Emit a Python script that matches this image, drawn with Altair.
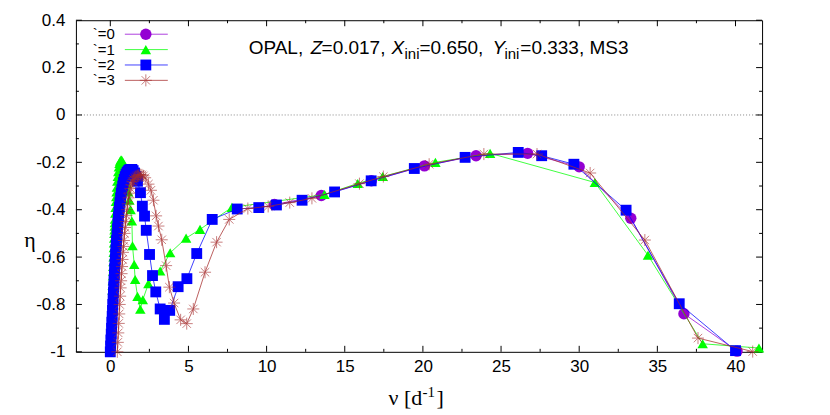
import altair as alt
import pandas as pd

# ---------------- data ----------------
nu0 = [10.5, 13.5, 16.7, 20.1, 23.4, 26.7, 30.0, 33.3, 36.7, 40.1]
eta0 = [-0.378, -0.340, -0.278, -0.215, -0.172, -0.162, -0.219, -0.436, -0.839, -0.997]

nu1 = [0.14, 0.15, 0.16, 0.17, 0.18, 0.19, 0.20, 0.21, 0.22, 0.23, 0.24, 0.25, 0.26, 0.27, 0.28, 0.29,
       0.30, 0.32, 0.34, 0.36, 0.38, 0.40, 0.42, 0.45, 0.48, 0.51, 0.55, 0.59, 0.63, 0.68, 0.73, 0.79,
       0.85, 0.92, 0.99, 1.06, 1.14, 1.22, 1.30,
       1.38, 1.42, 1.53, 1.59, 1.74, 1.92, 2.08, 2.44, 3.19, 3.83, 4.85, 5.74, 7.78,
       13.7, 15.83, 17.43, 20.8, 24.3, 31.0, 34.4, 37.9, 41.5]
eta1 = [-0.74, -0.72, -0.70, -0.68, -0.66, -0.64, -0.62, -0.60, -0.58, -0.56, -0.54, -0.52, -0.50, -0.485, -0.47, -0.455,
        -0.44, -0.415, -0.39, -0.365, -0.345, -0.325, -0.305, -0.28, -0.26, -0.24, -0.22, -0.205, -0.195, -0.19, -0.19, -0.20,
        -0.215, -0.235, -0.26, -0.29, -0.325, -0.36, -0.40,
        -0.448, -0.552, -0.631, -0.695, -0.766, -0.82, -0.78, -0.712, -0.659, -0.582, -0.52, -0.483, -0.39,
        -0.336, -0.289, -0.26, -0.20, -0.162, -0.285, -0.592, -0.966, -0.984]

nu2 = [0.00, 0.02, 0.04, 0.06, 0.08, 0.10, 0.12, 0.14, 0.16, 0.18, 0.20, 0.22, 0.24, 0.26, 0.28, 0.30,
       0.32, 0.34, 0.36, 0.38, 0.40, 0.43, 0.46, 0.49, 0.52, 0.55, 0.58, 0.62, 0.66, 0.70, 0.74, 0.79,
       0.84, 0.89, 0.95, 1.01, 1.08, 1.15, 1.22, 1.30, 1.38, 1.46, 1.55, 1.64, 1.74,
       1.93, 2.05, 2.19, 2.30, 2.51, 2.70, 2.91, 3.19, 3.46, 3.80, 4.34, 4.90, 5.53, 6.52,
       8.12, 9.50, 10.63, 12.27, 14.35, 16.69, 19.45, 22.7, 26.1, 27.6, 29.66, 33.0, 36.4, 40.0]
eta2 = [-1.0, -0.975, -0.95, -0.925, -0.90, -0.875, -0.85, -0.825, -0.80, -0.775, -0.75, -0.725, -0.70, -0.675, -0.65, -0.63,
        -0.61, -0.59, -0.57, -0.55, -0.53, -0.505, -0.48, -0.455, -0.43, -0.41, -0.39, -0.37, -0.35, -0.33, -0.315, -0.30,
        -0.285, -0.272, -0.26, -0.25, -0.242, -0.236, -0.232, -0.23, -0.23, -0.235, -0.245, -0.26, -0.28,
        -0.328, -0.385, -0.427, -0.487, -0.589, -0.678, -0.747, -0.819, -0.863, -0.825, -0.725, -0.691, -0.585, -0.441,
        -0.397, -0.391, -0.380, -0.360, -0.325, -0.278, -0.226, -0.179, -0.158, -0.172, -0.208, -0.402, -0.797, -0.995]

nu3 = [0.45, 0.48, 0.51, 0.54, 0.57, 0.60, 0.63, 0.66, 0.69, 0.72, 0.75, 0.78, 0.81, 0.84, 0.87,
       0.91, 0.95, 0.99, 1.03, 1.07, 1.12, 1.17, 1.22, 1.28, 1.34, 1.41, 1.48, 1.56, 1.64,
       1.73, 1.82, 1.92, 2.02, 2.12, 2.23,
       2.44, 2.60, 2.76, 2.93, 3.08, 3.29, 3.57, 3.78, 4.08, 4.50, 4.89, 5.31, 6.06, 6.80, 7.61,
       8.80, 10.1, 11.48, 12.9, 15.94, 17.47, 20.4, 23.9, 27.3, 30.7, 34.2, 37.6, 41.1]
eta3 = [-1.0, -0.96, -0.92, -0.88, -0.84, -0.80, -0.765, -0.73, -0.70, -0.67, -0.64, -0.61, -0.58, -0.555, -0.53,
        -0.50, -0.475, -0.45, -0.425, -0.40, -0.375, -0.35, -0.33, -0.31, -0.295, -0.282, -0.272, -0.265, -0.26,
        -0.256, -0.253, -0.252, -0.253, -0.257, -0.265,
        -0.292, -0.318, -0.36, -0.426, -0.469, -0.527, -0.636, -0.727, -0.794, -0.865, -0.881, -0.819, -0.664, -0.537, -0.441,
        -0.395, -0.386, -0.370, -0.352, -0.290, -0.260, -0.208, -0.165, -0.165, -0.245, -0.528, -0.942, -0.999]

legend_labels = ["`=0", "`=1", "`=2", "`=3"]
x_major = [0, 5, 10, 15, 20, 25, 30, 35, 40]
x_minor = [2.5, 7.5, 12.5, 17.5, 22.5, 27.5, 32.5, 37.5]
y_major = [-1.0, -0.8, -0.6, -0.4, -0.2, 0.0, 0.2, 0.4]
y_minor = [-0.9, -0.7, -0.5, -0.3, -0.1, 0.1, 0.3]

# ---------------- layout ----------------
W, H = 687, 332
xs = alt.Scale(domain=[-2.2, 41.7], nice=False, zero=False)
ys = alt.Scale(domain=[-1.0, 0.4], nice=False, zero=False)
SANS = "Liberation Sans"
SERIF = "Liberation Serif"

xaxis = alt.Axis(values=x_major, ticks=False, domain=False, grid=False, title=None,
                 labelFont=SANS, labelFontSize=17, labelColor="black", labelPadding=7,
                 format="d", labelFlush=False, labelOverlap=False)
yaxis = alt.Axis(values=y_major, ticks=False, domain=False, grid=False, title=None,
                 labelFont=SANS, labelFontSize=17, labelColor="black", labelPadding=11,
                 labelOverlap=False, labelFlush=False,
                 labelExpr="abs(datum.value) < 1e-9 ? '0' : (abs(datum.value + 1) < 1e-9 ? '-1' : (datum.value < 0 ? '-' : '') + format(abs(datum.value), '.1f'))")

X = lambda f: alt.X(f, type="quantitative", scale=xs, axis=xaxis)
Y = lambda f: alt.Y(f, type="quantitative", scale=ys, axis=yaxis)

layers = []

# zero reference line
zdf = pd.DataFrame({"v": [0.0]})
layers.append(alt.Chart(zdf).mark_rule(color="#888888", strokeWidth=1, strokeDash=[1, 2]).encode(y=Y("v")))

# ticks (inward, on all four sides)
def xticks(vals, L):
    d = pd.DataFrame({"t": vals})
    b = alt.Chart(d).mark_rule(color="black", strokeWidth=1)
    return [b.encode(x=X("t"), y=alt.value(H), y2=alt.value(H - L)),
            b.encode(x=X("t"), y=alt.value(0), y2=alt.value(L))]

def yticks(vals, L):
    d = pd.DataFrame({"t": vals})
    b = alt.Chart(d).mark_rule(color="black", strokeWidth=1)
    return [b.encode(y=Y("t"), x=alt.value(0), x2=alt.value(L)),
            b.encode(y=Y("t"), x=alt.value(W), x2=alt.value(W - L))]

layers += xticks(x_major, 6) + xticks(x_minor, 3) + yticks(y_major, 6) + yticks(y_minor, 3)

ASTER = "M-1,0L1,0M0,-1L0,1M-0.7,-0.7L0.7,0.7M-0.7,0.7L0.7,-0.7"
styles = [
    dict(color="#9400D3", shape="circle", size=130, filled=True, opacity=1.0),
    dict(color="#00FF00", shape="triangle-up", size=110, filled=True, opacity=1.0),
    dict(color="#0000FF", shape="square", size=118, filled=True, opacity=1.0),
    dict(color="#A52A2A", shape=ASTER, size=145, filled=False, opacity=0.6),
]
series = [(nu0, eta0), (nu1, eta1), (nu2, eta2), (nu3, eta3)]

for (nu, eta), st in zip(series, styles):
    df = pd.DataFrame({"nu": nu, "eta": eta, "i": list(range(len(nu)))})
    base = alt.Chart(df)
    layers.append(base.mark_line(color=st["color"], strokeWidth=1, opacity=0.75).encode(
        x=X("nu"), y=Y("eta"), order=alt.Order("i:Q")))
    if st["filled"]:
        pm = base.mark_point(shape=st["shape"], size=st["size"], filled=True,
                             color=st["color"], opacity=st["opacity"], strokeWidth=0)
    else:
        pm = base.mark_point(shape=st["shape"], size=st["size"], filled=False,
                             color=st["color"], opacity=st["opacity"], strokeWidth=1)
    layers.append(pm.encode(x=X("nu"), y=Y("eta")))

# ---------------- manual key ----------------
key_rows = [14, 29.4, 44.8, 60.2]
one = pd.DataFrame({"k": [0]})
for lab, yy, st in zip(legend_labels, key_rows, styles):
    layers.append(alt.Chart(one).mark_text(font=SANS, fontSize=15, align="right", baseline="middle",
                                           color="black").encode(
        x=alt.value(39), y=alt.value(yy), text=alt.value(lab)))
    layers.append(alt.Chart(one).mark_rule(color=st["color"], strokeWidth=1, opacity=0.75).encode(
        x=alt.value(49), x2=alt.value(92), y=alt.value(yy)))
    layers.append(alt.Chart(one).mark_point(shape=st["shape"], size=st["size"], filled=st["filled"],
                                            color=st["color"], opacity=st["opacity"],
                                            strokeWidth=0 if st["filled"] else 1).encode(
        x=alt.value(70), y=alt.value(yy)))

# ---------------- in-plot label ----------------
BASE_Y = 34
pieces = [
    ("OPAL, ", 249, 19, "normal", 0),
    ("Z", 311, 19, "italic", 0),
    ("=0.017, ", 322, 19, "normal", 0),
    ("X", 392, 19, "italic", 0),
    ("ini", 405, 15, "normal", 5),
    ("=0.650, ", 420, 19, "normal", 0),
    ("Y", 493, 19, "italic", 0),
    ("ini", 505, 15, "normal", 5),
    ("=0.333, MS3", 521, 19, "normal", 0),
]
for txt, sx, fs, sty, dy in pieces:
    layers.append(alt.Chart(one).mark_text(font=SANS, fontSize=fs, fontStyle=sty, align="left",
                                           baseline="alphabetic", color="black", dy=dy).encode(
        x=alt.value(sx - 76), y=alt.value(BASE_Y), text=alt.value(txt)))

# ---------------- axis titles ----------------
layers.append(alt.Chart(one).mark_text(font=SERIF, fontSize=22, align="center", baseline="middle",
                                       color="black").encode(
    x=alt.value(30 - 76), y=alt.value(240 - 20), text=alt.value("η")))
xt = [("ν [d", 389, 22, 0), ("-1", 423, 15, -8), ("]", 437, 22, 0)]
for txt, sx, fs, dy in xt:
    layers.append(alt.Chart(one).mark_text(font=SERIF, fontSize=fs, align="left", baseline="alphabetic",
                                           color="black", dy=dy).encode(
        x=alt.value(sx - 76), y=alt.value(405 - 20), text=alt.value(txt)))

chart = alt.layer(*layers).properties(
    width=W, height=H,
    autosize=alt.AutoSizeParams(type="none"),
    padding={"left": 68, "top": 12, "right": 60, "bottom": 58},
).configure_view(stroke="black", strokeWidth=1)

chart.save("out.html", embed_options={"renderer": "svg", "actions": False})
